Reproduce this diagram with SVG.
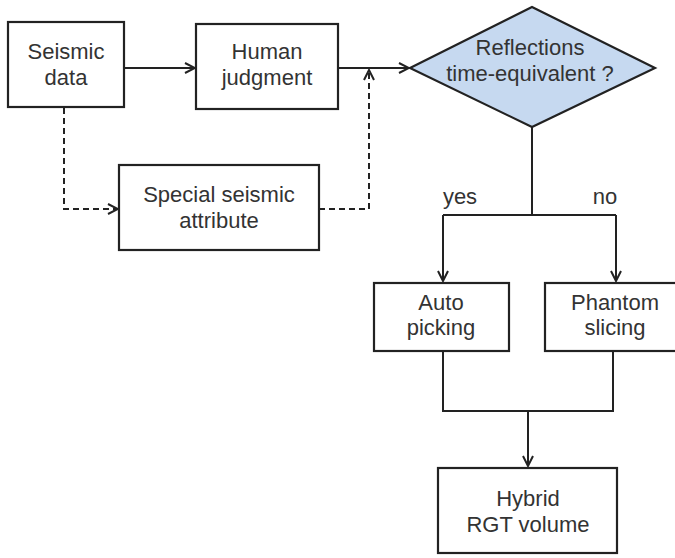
<svg xmlns="http://www.w3.org/2000/svg" width="675" height="558" viewBox="0 0 675 558">
<defs>
<style>
.box{fill:#fff;stroke:#222;stroke-width:2.2}
.dia{fill:#c6d9f0;stroke:#222;stroke-width:2.2}
.t{font-family:"Liberation Sans",Arial,sans-serif;font-size:22px;fill:#333;text-anchor:middle}
.c{fill:none;stroke:#222;stroke-width:2}
.d{fill:none;stroke:#222;stroke-width:2;stroke-dasharray:6 4}
</style>
<marker id="a" viewBox="0 0 12 12" refX="11" refY="6" markerWidth="12" markerHeight="12" markerUnits="userSpaceOnUse" orient="auto">
<path d="M1,1 L11,6 L1,11" fill="none" stroke="#222" stroke-width="2"/>
</marker>
</defs>
<rect width="675" height="558" fill="#fff"/>
<g id="connectors">
<line class="c" x1="124" y1="68" x2="195" y2="68" marker-end="url(#a)"/>
<line class="c" x1="338" y1="68" x2="409" y2="68" marker-end="url(#a)"/>
<polyline class="d" points="64,108 64,209 118,209" marker-end="url(#a)"/>
<polyline class="d" points="319,209 369,209 369,70" marker-end="url(#a)"/>
<polyline class="c" points="532,127 532,215"/>
<polyline class="c" points="443,215 616,215"/>
<line class="c" x1="443" y1="215" x2="443" y2="281" marker-end="url(#a)"/>
<line class="c" x1="616" y1="215" x2="616" y2="281" marker-end="url(#a)"/>
<polyline class="c" points="443,351 443,411 613,411 613,351"/>
<line class="c" x1="528" y1="411" x2="528" y2="466" marker-end="url(#a)"/>
</g>
<g id="seismic-data">
<rect class="box" x="8" y="22" width="116" height="85"/>
<text class="t" x="66" y="59">Seismic</text>
<text class="t" x="66" y="85">data</text>
</g>
<g id="human-judgment">
<rect class="box" x="196" y="24" width="142" height="85"/>
<text class="t" x="267" y="59">Human</text>
<text class="t" x="267" y="85">judgment</text>
</g>
<g id="special-attribute">
<rect class="box" x="119" y="165" width="200" height="85"/>
<text class="t" x="219" y="202">Special seismic</text>
<text class="t" x="219" y="228">attribute</text>
</g>
<g id="decision">
<polygon class="dia" points="532,7 655,68 532,127 410,68"/>
<text class="t" x="530" y="55">Reflections</text>
<text class="t" x="530" y="81">time-equivalent ?</text>
</g>
<g id="labels">
<text class="t" x="460" y="204">yes</text>
<text class="t" x="605" y="204">no</text>
</g>
<g id="auto-picking">
<rect class="box" x="374" y="283" width="135" height="68"/>
<text class="t" x="441" y="310">Auto</text>
<text class="t" x="441" y="335">picking</text>
</g>
<g id="phantom-slicing">
<rect class="box" x="545" y="283" width="142" height="68"/>
<text class="t" x="615" y="310">Phantom</text>
<text class="t" x="615" y="335">slicing</text>
</g>
<g id="hybrid-rgt">
<rect class="box" x="438" y="468" width="179" height="85"/>
<text class="t" x="528" y="506">Hybrid</text>
<text class="t" x="528" y="532">RGT volume</text>
</g>
</svg>
